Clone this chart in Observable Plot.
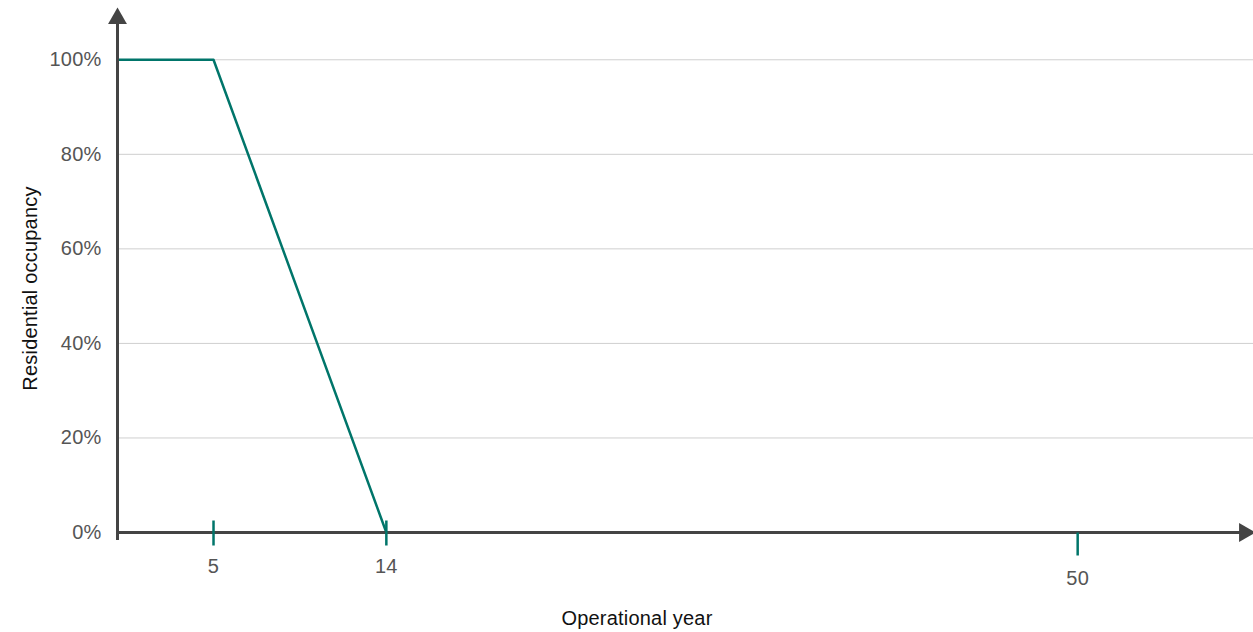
<!DOCTYPE html>
<html>
<head>
<meta charset="utf-8">
<script src="https://cdn.jsdelivr.net/npm/d3@7"></script>
<script src="https://cdn.jsdelivr.net/npm/@observablehq/plot@0.6"></script>
<style>
  html, body { margin: 0; padding: 0; background: #fff; }
  #chart { width: 1253px; height: 632px; }
</style>
</head>
<body>
<div id="chart"></div>
<script>
// Data
const years = [0, 5, 14];
const occupancy = [1, 1, 0];
const crossTicks = [5, 14];
const lowTicks = [50];
const yTicks = [0, 0.2, 0.4, 0.6, 0.8, 1];
const xTitle = "Operational year";
const yTitle = "Residential occupancy";

const teal = "#00756a";
const axisColor = "#444";
const labelColor = "#555";
const yTop = 1.1;
const xMax = 59;

const series = years.map((y, i) => ({year: y, occ: occupancy[i]}));

const vline = {
  draw(ctx, size) {
    const r = Math.sqrt(size / Math.PI);
    ctx.moveTo(0, -r);
    ctx.lineTo(0, r);
  }
};

const fs = 20;

const plot = Plot.plot({
  width: 1253,
  height: 632,
  marginLeft: 117,
  marginRight: 3,
  marginTop: 12,
  marginBottom: 100,
  style: {fontFamily: "'Liberation Sans', Arial, Helvetica, sans-serif", fontSize: fs + "px", background: "#fff", letterSpacing: "0.2px"},
  x: {type: "linear", domain: [0, xMax], axis: null},
  y: {type: "linear", domain: [0, yTop], axis: null},
  marks: [
    Plot.ruleY(yTicks.filter(d => d > 0), {stroke: "#cfcfcf", strokeWidth: 1, insetRight: -3}),
    Plot.axisY({ticks: yTicks, tickSize: 0, tickPadding: 16, tickFormat: d => Math.round(d * 100) + "%", fill: labelColor, label: null, fontSize: fs}),
    Plot.line(series, {x: "year", y: "occ", stroke: teal, strokeWidth: 2.5}),
    // axes
    Plot.ruleX([0], {y1: 0, y2: yTop, stroke: axisColor, strokeWidth: 3, insetTop: 8}),
    Plot.ruleY([0], {x1: 0, x2: xMax, stroke: axisColor, strokeWidth: 3, insetRight: 8}),
    Plot.dot([0], {x: 0, y: yTop, symbol: "triangle", r: 7, fill: axisColor, stroke: null, dy: 6}),
    Plot.dot([0], {x: xMax, y: 0, symbol: "triangle", r: 7, fill: axisColor, stroke: null, rotate: 90, dx: -6}),
    // x ticks
    Plot.dot(crossTicks, {x: d => d, y: 0, symbol: vline, r: 12.5, stroke: teal, strokeWidth: 2.5, dy: 0.5}),
    Plot.dot(lowTicks, {x: d => d, y: 0, symbol: vline, r: 11.5, stroke: teal, strokeWidth: 2.5, dy: 11.5}),
    Plot.text(crossTicks, {x: d => d, y: 0, text: d => String(d), dy: 34, fill: labelColor, fontSize: fs}),
    Plot.text(lowTicks, {x: d => d, y: 0, text: d => String(d), dy: 46, fill: labelColor, fontSize: fs}),
    // titles
    Plot.text([yTitle], {frameAnchor: "left", textAnchor: "middle", dx: -87, dy: 16, rotate: -90, fill: "#111", fontSize: fs}),
    Plot.text([xTitle], {frameAnchor: "bottom", textAnchor: "middle", dx: -47, dy: 92, fill: "#111", fontSize: fs})
  ]
});
document.getElementById("chart").appendChild(plot);
</script>
</body>
</html>
